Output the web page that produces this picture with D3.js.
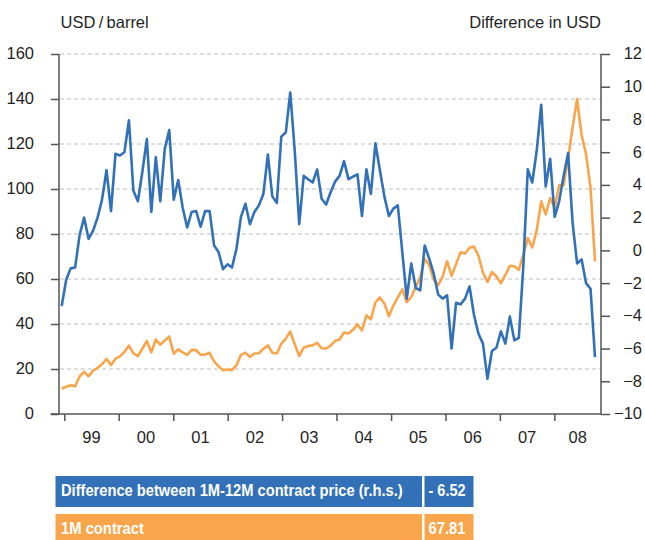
<!DOCTYPE html>
<html>
<head>
<meta charset="utf-8">
<script src="https://cdn.jsdelivr.net/npm/d3@7/dist/d3.min.js"></script>
<style>
    body { margin: 0; background: #ffffff; }
    svg { display: block; font-family: "Liberation Sans", Arial, sans-serif; }
</style>
</head>
<body>
<svg id="vis" width="645" height="540"></svg>
<script>
// month-end values, Nov 1998 .. Oct 2008
var firstYear = 1999;
var lastYear = 2008;

// difference between 1M and 12M contract (r.h.s.)
var spread = [
    -3.4, -1.8,
    -1.1, -1.05, 0.95, 2.0, 0.7, 1.2, 2.0, 3.1, 4.9, 2.4, 5.9, 5.8,
    6.0, 7.95, 3.65, 3.0, 4.8, 6.8, 2.35, 5.7, 3.0, 6.2, 7.35, 3.1,
    4.3, 2.6, 1.4, 2.35, 2.4, 1.45, 2.4, 2.4, 0.3, -0.1, -1.15, -0.85,
    -1.05, 0.1, 2.05, 2.85, 1.6, 2.35, 2.75, 3.45, 5.85, 3.3, 2.9, 6.95,
    7.2, 9.65, 6.1, 1.6, 4.55, 4.35, 4.15, 4.95, 3.15, 2.8, 3.55, 4.2,
    4.55, 5.45, 4.35, 4.5, 4.65, 2.1, 4.95, 3.45, 6.55, 4.9, 3.3, 2.1,
    2.55, 2.75, -0.1, -2.95, -0.8, -2.3, -2.45, 0.3, -0.5, -1.4, -2.7, -2.95,
    -2.75, -6.0, -3.2, -3.3, -2.95, -2.2, -3.95, -5.1, -5.7, -7.85, -6.15, -5.95,
    -4.95, -5.7, -4.05, -5.5, -5.35, -1.0, 4.95, 4.15, 6.1, 8.9, 3.9, 5.6,
    2.05, 3.0, 4.55, 5.95, 1.7, -0.8, -0.55, -2.0, -2.35, -6.52
];

// 1M contract, USD per barrel
var price = [
    11.2, 12.1,
    12.8, 12.3, 16.8, 18.7, 16.8, 19.3, 20.5, 22.1, 24.5, 21.8, 24.6, 25.6,
    27.6, 30.4, 26.9, 25.7, 29.0, 32.5, 27.4, 33.1, 30.8, 32.7, 34.4, 26.8,
    28.7, 27.4, 26.3, 28.5, 28.4, 26.3, 26.4, 27.2, 23.4, 21.2, 19.4, 19.8,
    19.5, 21.7, 26.3, 27.3, 25.3, 26.9, 27.0, 29.0, 30.5, 27.2, 26.9, 31.2,
    33.5, 36.6, 31.0, 25.8, 29.6, 30.2, 30.5, 31.6, 29.2, 29.1, 30.4, 32.5,
    33.1, 36.2, 35.8, 37.4, 39.9, 37.1, 43.8, 42.1, 49.6, 51.8, 49.1, 43.5,
    48.2, 51.8, 55.4, 49.7, 52.0, 56.5, 60.6, 68.9, 66.2, 59.8, 57.3, 61.0,
    67.9, 61.4, 66.6, 71.9, 71.3, 73.9, 74.4, 70.3, 62.9, 58.7, 63.1, 61.1,
    58.1, 61.8, 65.9, 65.7, 64.0, 70.7, 78.2, 74.0, 81.7, 94.5, 88.7, 96.0,
    91.8, 101.8, 101.6, 113.5, 127.4, 140.0, 124.1, 115.5, 100.6, 67.81
];

var yearLabels = ["99", "00", "01", "02", "03", "04", "05", "06", "07", "08"];
var leftTicks = [0, 20, 40, 60, 80, 100, 120, 140, 160];
var rightTicks = [-10, -8, -6, -4, -2, 0, 2, 4, 6, 8, 10, 12];

var legendNames = ["Difference between 1M-12M contract price (r.h.s.)", "1M contract"];
var legendValues = ["- 6.52", "67.81"];

var blue = "#3271b8";
var orange = "#f8a54b";
var textColor = "#1f1f1f";
var axisColor = "#555555";

drawChart();

function drawChart() {
    let svg = d3.select("svg#vis");

    let margin = { top: 54, right: 44, bottom: 126, left: 59 };
    let plotWidth = 645 - margin.left - margin.right;   // 542
    let plotHeight = 540 - margin.top - margin.bottom;  // 360

    // data points sit a little inside the year grid
    let monthScale = d3.scaleLinear()
        .domain([0, price.length - 1])
        .range([2.7, 536]);

    let yearScale = d3.scaleTime()
        .domain([new Date(firstYear, 0, 1), new Date(lastYear, 0, 1)])
        .range([5.3, 495.3]);

    let leftScale = d3.scaleLinear()
        .domain([0, 160])
        .range([plotHeight, 0]);

    let rightScale = d3.scaleLinear()
        .domain([-10, 12])
        .range([plotHeight, 0]);

    let plot = svg.append("g")
        .attr("transform", "translate(" + margin.left + "," + margin.top + ")");

    // dashed gridlines from the left axis
    plot.append("g")
        .selectAll("line")
        .data(leftTicks.filter(function(d) { return d > 0; }))
        .join("line")
        .attr("x1", 1)
        .attr("x2", plotWidth)
        .attr("y1", function(d) { return leftScale(d); })
        .attr("y2", function(d) { return leftScale(d); })
        .attr("stroke", "#bdbdbd")
        .attr("stroke-width", 1)
        .attr("stroke-dasharray", "4,3");

    // left axis
    let yLeft = d3.axisLeft(leftScale)
        .tickValues(leftTicks)
        .tickSize(8)
        .tickPadding(17);
    let leftGroup = plot.append("g").call(yLeft);
    leftGroup.select(".domain").remove();
    leftGroup.selectAll(".tick line").attr("stroke", axisColor).attr("stroke-width", 1.5);
    leftGroup.selectAll(".tick text")
        .attr("fill", textColor)
        .style("font-size", "16.5px")
        .attr("dy", "0.3em");

    // right axis
    let yRight = d3.axisRight(rightScale)
        .tickValues(rightTicks)
        .tickSize(9);
    let rightGroup = plot.append("g")
        .attr("transform", "translate(" + plotWidth + ",0)")
        .call(yRight);
    rightGroup.select(".domain").remove();
    rightGroup.selectAll(".tick line").attr("stroke", axisColor).attr("stroke-width", 1.5);
    rightGroup.selectAll(".tick text")
        .attr("fill", textColor)
        .style("font-size", "16.5px")
        .attr("text-anchor", "end")
        .attr("x", 41)
        .attr("dy", "0.3em");

    // year ticks
    let xAxis = d3.axisBottom(yearScale)
        .ticks(d3.timeYear.every(1))
        .tickSize(7)
        .tickFormat("");
    let xGroup = plot.append("g")
        .attr("transform", "translate(0," + plotHeight + ")")
        .call(xAxis);
    xGroup.select(".domain").remove();
    xGroup.selectAll(".tick line").attr("stroke", axisColor).attr("stroke-width", 1.5);

    // year labels centred in each year (last one clipped by the right axis)
    plot.append("g")
        .selectAll("text")
        .data(yearLabels)
        .join("text")
        .attr("x", function(d, i) {
            let a = yearScale(new Date(firstYear + i, 0, 1));
            let b = Math.min(yearScale(new Date(firstYear + i + 1, 0, 1)), plotWidth);
            return (a + b) / 2;
        })
        .attr("y", plotHeight + 29)
        .attr("text-anchor", "middle")
        .attr("fill", textColor)
        .style("font-size", "16.5px")
        .text(function(d) { return d; });

    // axis frame
    plot.append("line")
        .attr("x1", -8.5).attr("x2", plotWidth)
        .attr("y1", plotHeight).attr("y2", plotHeight)
        .attr("stroke", axisColor).attr("stroke-width", 1.5);
    plot.append("line")
        .attr("x1", 0).attr("x2", 0)
        .attr("y1", 0).attr("y2", plotHeight)
        .attr("stroke", axisColor).attr("stroke-width", 1.5);
    plot.append("line")
        .attr("x1", plotWidth).attr("x2", plotWidth)
        .attr("y1", 0).attr("y2", plotHeight)
        .attr("stroke", axisColor).attr("stroke-width", 1.5);

    // lines
    let priceLine = d3.line()
        .x(function(d, i) { return monthScale(i); })
        .y(function(d) { return leftScale(d); });

    let spreadLine = d3.line()
        .x(function(d, i) { return monthScale(i); })
        .y(function(d) { return rightScale(d); });

    plot.append("path")
        .attr("d", priceLine(price))
        .attr("fill", "none")
        .attr("stroke", orange)
        .attr("stroke-width", 2.6)
        .attr("stroke-linejoin", "round");

    plot.append("path")
        .attr("d", spreadLine(spread))
        .attr("fill", "none")
        .attr("stroke", blue)
        .attr("stroke-width", 2.6)
        .attr("stroke-linejoin", "round");

    // unit titles
    svg.append("text")
        .attr("x", 60.5)
        .attr("y", 28)
        .attr("fill", textColor)
        .style("font-size", "16.5px")
        .text("USD\u2009/\u2009barrel");

    svg.append("text")
        .attr("x", 601)
        .attr("y", 28)
        .attr("text-anchor", "end")
        .attr("fill", textColor)
        .style("font-size", "16.5px")
        .text("Difference in USD");

    // legend boxes
    let legendColors = [blue, orange];
    let nameWidths = [342, 83];
    let rows = svg.append("g")
        .selectAll("g")
        .data(legendNames)
        .join("g")
        .attr("transform", function(d, i) { return "translate(0," + (476 + i * 38) + ")"; });

    rows.append("rect")
        .attr("x", 55.5).attr("y", 0)
        .attr("width", 366.5).attr("height", 31)
        .attr("fill", function(d, i) { return legendColors[i]; });

    rows.append("rect")
        .attr("x", 424.5).attr("y", 0)
        .attr("width", 49).attr("height", 31)
        .attr("fill", function(d, i) { return legendColors[i]; });

    // condensed look: squeeze the bold text horizontally to the reference width
    rows.each(function(d, i) {
        let row = d3.select(this);

        let name = row.append("text")
            .attr("y", 20.5)
            .attr("fill", "#ffffff")
            .style("font-size", "16px")
            .style("font-weight", "bold")
            .text(d);
        let k = nameWidths[i] / name.node().getComputedTextLength();
        name.attr("transform", "translate(61,0) scale(" + k + ",1)");

        let value = row.append("text")
            .attr("y", 20.5)
            .attr("fill", "#ffffff")
            .style("font-size", "16px")
            .style("font-weight", "bold")
            .text(legendValues[i]);
        let kv = 37 / value.node().getComputedTextLength();
        value.attr("transform", "translate(428.5,0) scale(" + kv + ",1)");
    });
}
</script>
</body>
</html>
